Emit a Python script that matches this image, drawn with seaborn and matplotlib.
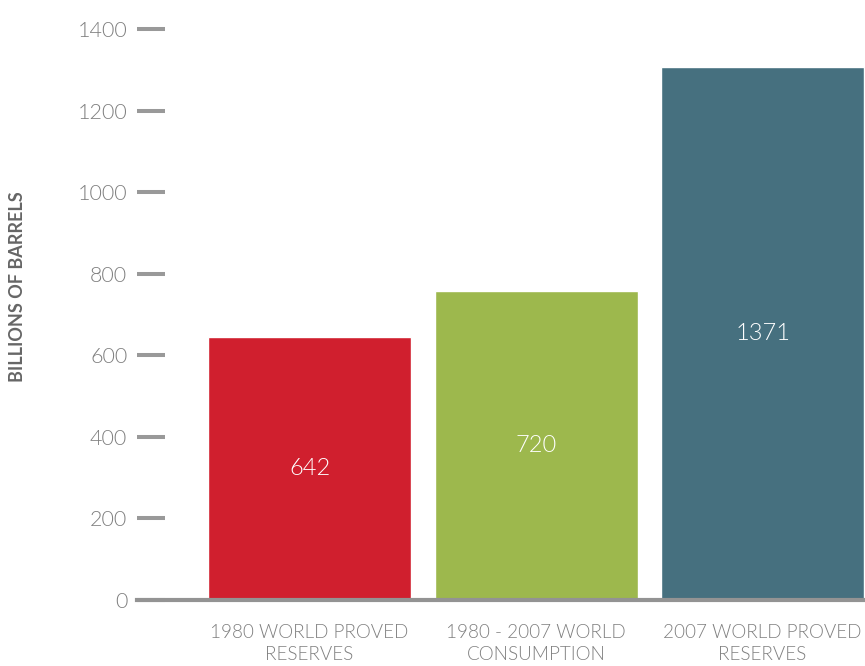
import matplotlib
matplotlib.use("Agg")
import matplotlib.pyplot as plt
import seaborn as sns
import pandas as pd

# data
categories = ["1980 WORLD PROVED\nRESERVES", "1980 - 2007 WORLD\nCONSUMPTION", "2007 WORLD PROVED\nRESERVES"]
bar_heights = [645, 758, 1307]          # heights as drawn in the picture
bar_labels = ["642", "720", "1371"]     # numbers printed on the bars
bar_colors = ["#D01F2E", "#9DB84D", "#46707F"]
y_ticks = [0, 200, 400, 600, 800, 1000, 1200, 1400]

df = pd.DataFrame({"category": categories, "value": bar_heights})

sns.set_theme(style="white")
plt.rcParams["font.family"] = ["Lato", "DejaVu Sans"]

fig = plt.figure(figsize=(8.65, 6.66), dpi=100)
ax = fig.add_axes([137 / 865, 66 / 666, 728 / 865, 600 / 666])

sns.barplot(data=df, x="category", y="value", hue="category", palette=bar_colors,
            width=0.896, saturation=1, legend=False, ax=ax)

for patch, lab in zip(ax.patches, bar_labels):
    cx = patch.get_x() + patch.get_width() / 2
    cy = patch.get_height() / 2
    ax.text(cx, cy, lab, ha="center", va="center", color="white",
            fontsize=17, fontweight=300)

ax.set_xlim(-0.762, 2.452)
ax.set_ylim(0, 600 / 0.4077)
ax.set_yticks(y_ticks)
ax.set_yticklabels([str(t) for t in y_ticks])

ax.tick_params(axis="y", direction="in", length=20, width=2.9, color="#999999",
               pad=7, labelsize=15.5, labelcolor="#7f7f7f", left=True)
ax.tick_params(axis="x", length=0, pad=17, labelsize=13.6, labelcolor="#7f7f7f")
for lbl in ax.get_yticklabels() + ax.get_xticklabels():
    lbl.set_fontweight(300)
for lbl in ax.get_xticklabels():
    lbl.set_linespacing(1.35)

for side in ["top", "right", "left"]:
    ax.spines[side].set_visible(False)
ax.spines["bottom"].set_color("#939393")
ax.spines["bottom"].set_linewidth(3)

ax.set_xlabel("")
ax.set_ylabel("")
fig.text(18 / 865, 1 - 287 / 666, "BILLIONS OF BARRELS", rotation=90, ha="center",
         va="center", fontsize=13, fontweight="bold", color="#666666")

fig.savefig("out.png", dpi=100)
